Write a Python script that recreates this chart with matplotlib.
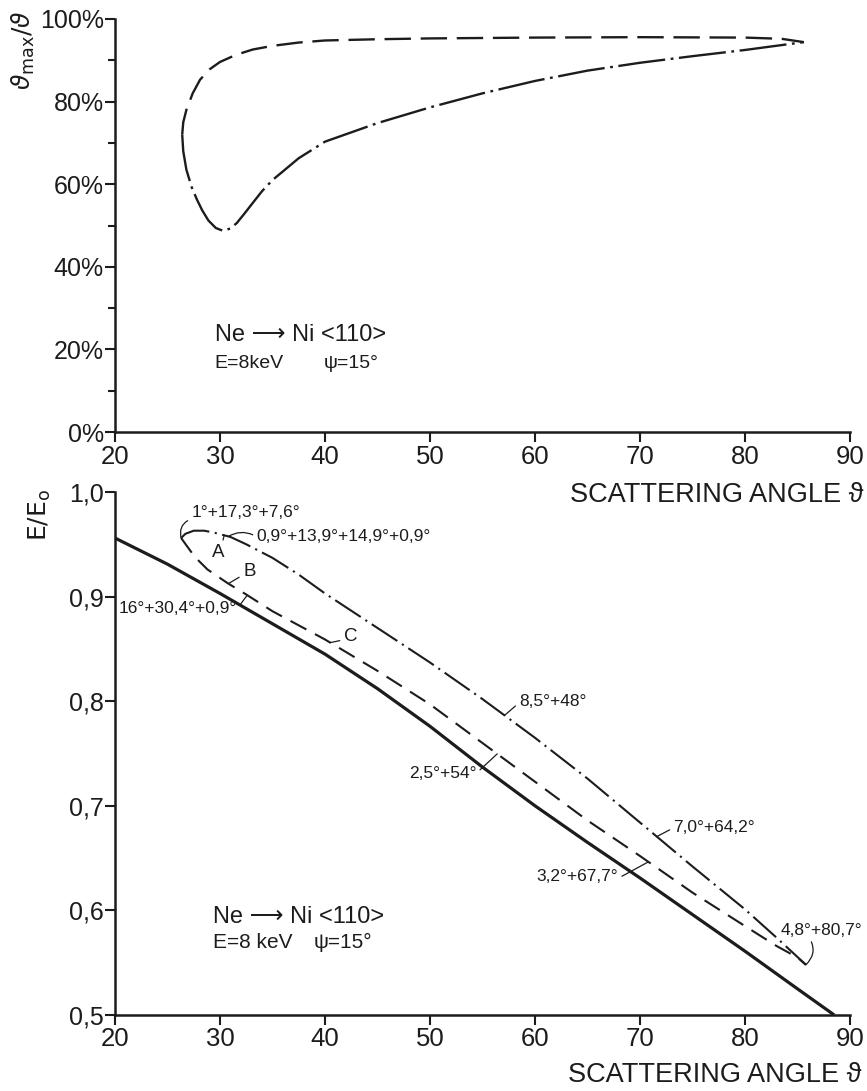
import numpy as np
import matplotlib
matplotlib.use("Agg")
import matplotlib.pyplot as plt
from matplotlib.ticker import FixedLocator, FuncFormatter, MultipleLocator

plt.rcParams["font.family"] = ["Liberation Sans", "DejaVu Sans"]
plt.rcParams["mathtext.fontset"] = "dejavusans"
plt.rcParams["lines.scale_dashes"] = False

INK = "#1c1c1c"

# --- upper panel: theta_max / theta (%) vs scattering angle, closed contour ---
top_dash_theta = [26.4, 26.5, 26.8, 27.4, 28.1, 29.0, 30.0, 31.5, 33.1, 35.0,
                  37.5, 40.0, 45.0, 50.0, 60.0, 70.0, 80.0, 83.5, 85.6]
top_dash_pct = [72.0, 75.0, 78.0, 82.0, 85.3, 87.8, 89.6, 91.3, 92.6, 93.5,
                94.3, 94.8, 95.1, 95.3, 95.5, 95.6, 95.5, 95.2, 94.4]

top_dd_theta = [26.4, 26.5, 26.8, 27.3, 27.8, 28.3, 28.9, 29.6, 30.3, 31.0,
                31.6, 32.3, 33.1, 34.0, 35.0, 37.5, 40.0, 45.0, 50.0, 55.0,
                60.0, 65.0, 70.0, 75.0, 80.0, 85.6]
top_dd_pct = [72.0, 68.0, 63.5, 59.3, 56.3, 53.7, 51.2, 49.4, 48.7, 49.3,
              50.6, 52.8, 55.4, 58.3, 61.0, 66.3, 70.3, 74.8, 78.6, 82.0,
              85.0, 87.5, 89.4, 91.0, 92.5, 94.4]

# --- lower panel: E/E0 vs scattering angle ---
solid_theta = [20, 25, 30, 35, 40, 45, 50, 55, 60, 65, 70, 75, 80, 85, 88.5]
solid_val = [0.956, 0.931, 0.903, 0.874, 0.845, 0.812, 0.776, 0.737, 0.700,
             0.665, 0.631, 0.596, 0.561, 0.525, 0.500]

a_theta = [26.3, 26.7, 27.5, 28.5, 29.5, 31.0, 32.5, 35.0, 37.5, 40.0, 45.0,
           50.0, 55.0, 60.0, 65.0, 70.0, 75.0, 80.0, 83.0, 85.8]
a_val = [0.956, 0.960, 0.963, 0.963, 0.961, 0.957, 0.950, 0.937, 0.921, 0.903,
         0.870, 0.837, 0.802, 0.765, 0.726, 0.684, 0.642, 0.601, 0.574, 0.548]

b_theta = [26.3, 26.8, 27.6, 28.8, 30.7, 32.5, 35.0, 40.0, 45.0, 50.0, 55.0,
           60.0, 65.0, 70.0, 75.0, 80.0, 83.0, 85.0, 85.8]
b_val = [0.956, 0.949, 0.938, 0.926, 0.913, 0.902, 0.886, 0.859, 0.829, 0.797,
         0.760, 0.723, 0.686, 0.652, 0.617, 0.585, 0.566, 0.555, 0.548]

x_ticks = [20, 30, 40, 50, 60, 70, 80, 90]
pct_ticks = [0, 20, 40, 60, 80, 100]
e_ticks = [0.5, 0.6, 0.7, 0.8, 0.9, 1.0]


def on(ts, vs, t):
    return (t, float(np.interp(t, ts, vs)))


def leader(ax, text, xy, xytext, ha="left", rad=0.0, relpos=(0.0, 0.5), size=12.5):
    ax.annotate(text, xy=xy, xytext=xytext, ha=ha, va="center", size=size,
                color=INK, annotation_clip=False,
                arrowprops=dict(arrowstyle="-", lw=0.9, color=INK,
                                connectionstyle=f"arc3,rad={rad}",
                                relpos=relpos, shrinkA=1, shrinkB=0))


def style_axes(ax):
    for side in ("top", "right"):
        ax.spines[side].set_visible(False)
    for side in ("left", "bottom"):
        ax.spines[side].set_linewidth(1.8)
        ax.spines[side].set_color(INK)
    ax.tick_params(which="both", direction="out", color=INK, width=1.5,
                   labelcolor=INK)
    ax.tick_params(which="major", length=7)
    ax.tick_params(which="minor", length=5)
    ax.tick_params(axis="x", labelsize=18.5, pad=2)
    ax.tick_params(axis="y", labelsize=18, pad=1)
    ax.xaxis.set_major_locator(FixedLocator(x_ticks))
    ax.set_xlim(20, 90)


fig = plt.figure(figsize=(8.67, 10.91), dpi=100)
W, H = 867, 1091
ax1 = fig.add_axes([115 / W, 1 - 432 / H, (850 - 115) / W, (432 - 19) / H])
ax2 = fig.add_axes([115 / W, 1 - 1015 / H, (850 - 115) / W, (1015 - 492) / H])

# upper panel
style_axes(ax1)
ax1.plot(top_dash_theta, top_dash_pct, color=INK, lw=1.7,
         linestyle=(0, (19, 7)), solid_capstyle="butt")
ax1.plot(top_dd_theta, top_dd_pct, color=INK, lw=1.7,
         linestyle=(0, (34, 4, 2, 4)), solid_capstyle="butt")
ax1.set_ylim(0, 100)
ax1.yaxis.set_major_locator(FixedLocator(pct_ticks))
ax1.yaxis.set_minor_locator(MultipleLocator(10))
ax1.yaxis.set_major_formatter(FuncFormatter(lambda v, _: f"{v:.0f}%"))
ax1.text(29.5, 23.5, "Ne ⟶ Ni <110>", size=17, va="center", color=INK)
ax1.text(29.5, 16.7, "E=8keV", size=14, va="center", color=INK)
ax1.text(39.9, 16.7, "ψ=15°", size=14, va="center", color=INK)

# lower panel
style_axes(ax2)
ax2.plot(solid_theta, solid_val, color=INK, lw=2.3, solid_capstyle="butt")
ax2.plot(b_theta, b_val, color=INK, lw=1.5, linestyle=(0, (13, 7)))
ax2.plot(a_theta, a_val, color=INK, lw=1.5, linestyle=(0, (22, 4, 1.5, 4)))
ax2.set_ylim(0.5, 1.0)
ax2.yaxis.set_major_locator(FixedLocator(e_ticks))
ax2.yaxis.set_major_formatter(FuncFormatter(lambda v, _: f"{v:.1f}".replace(".", ",")))

leader(ax2, "1°+17,3°+7,6°", (a_theta[0], a_val[0]), (27.3, 0.980),
       rad=0.45, relpos=(0.0, 0.1))
leader(ax2, "0,9°+13,9°+14,9°+0,9°", on(a_theta, a_val, 30.8), (33.5, 0.957),
       rad=0.3, relpos=(0.0, 0.5))
leader(ax2, "A", on(a_theta, a_val, 30.4), (29.8, 0.942), ha="center",
       rad=0.0, relpos=(0.8, 0.9), size=13.5)
leader(ax2, "B", on(b_theta, b_val, 30.8), (32.2, 0.924),
       rad=0.0, relpos=(0.0, 0.3), size=13.5)
leader(ax2, "16°+30,4°+0,9°", on(b_theta, b_val, 32.6), (20.3, 0.889),
       rad=0.0, relpos=(1.0, 0.4))
leader(ax2, "C", on(b_theta, b_val, 40.5), (41.8, 0.862),
       rad=0.0, relpos=(0.0, 0.3), size=13.5)
leader(ax2, "8,5°+48°", on(a_theta, a_val, 57.1), (58.5, 0.800),
       rad=0.0, relpos=(0.0, 0.4))
leader(ax2, "2,5°+54°", on(b_theta, b_val, 56.4), (54.4, 0.731), ha="right",
       rad=0.0, relpos=(1.0, 0.5))
leader(ax2, "7,0°+64,2°", on(a_theta, a_val, 71.6), (73.2, 0.679),
       rad=0.0, relpos=(0.0, 0.5))
leader(ax2, "3,2°+67,7°", on(b_theta, b_val, 70.8), (67.9, 0.632), ha="right",
       rad=0.0, relpos=(1.0, 0.4))
leader(ax2, "4,8°+80,7°", (a_theta[-1], a_val[-1]), (83.4, 0.581),
       rad=-0.4, relpos=(0.35, 0.0))

ax2.text(29.3, 0.594, "Ne ⟶ Ni <110>", size=17, va="center", color=INK)
ax2.text(29.3, 0.569, "E=8 keV", size=15, va="center", color=INK)
ax2.text(38.9, 0.569, "ψ=15°", size=15, va="center", color=INK)

# axis titles
fig.text(23 / W, 1 - 50 / H, r"$\vartheta_{\mathrm{max}}/\vartheta$", rotation=90,
         ha="center", va="center", size=18, color=INK)
fig.text(40 / W, 1 - 515 / H, r"$\mathrm{E/E_o}$", rotation=90,
         ha="center", va="center", size=18, color=INK)
fig.text(864 / W, 1 - 495 / H, "SCATTERING ANGLE ϑ", ha="right", va="center",
         size=19.5, color=INK)
fig.text(862 / W, 1 - 1075 / H, "SCATTERING ANGLE ϑ", ha="right", va="center",
         size=19.5, color=INK)

fig.savefig("out.png", dpi=100, facecolor="white")
